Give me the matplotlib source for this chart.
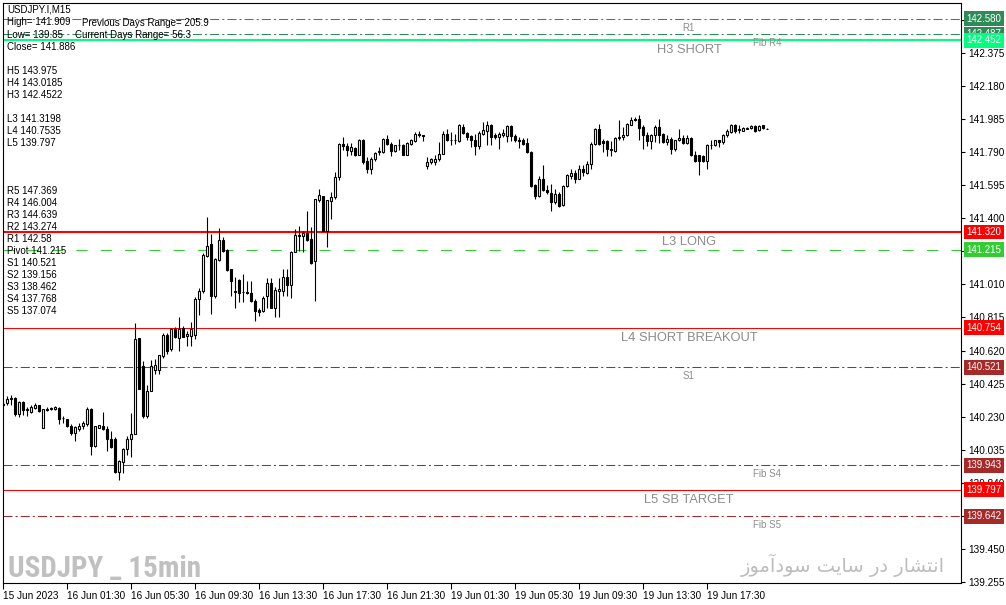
import matplotlib
matplotlib.use("Agg")
import matplotlib.pyplot as plt
import matplotlib.transforms as mtransforms
from matplotlib import font_manager
import numpy as np
import pandas as pd

plt.rcParams["font.family"] = ["Liberation Sans", "DejaVu Sans"]
plt.rcParams["lines.scale_dashes"] = False

# =========================
# Data (USDJPY.I, M15)
# =========================
opens = [
    140.306, 140.308, 140.338, 140.337, 140.248, 140.318, 140.272, 140.256, 140.280, 140.296,
    140.164, 140.268, 140.272, 140.276, 140.282, 140.221, 140.213, 140.173, 140.134, 140.158,
    140.173, 140.187, 140.272, 140.055, 140.164, 140.177, 140.158, 140.095, 140.095, 139.901,
    139.960, 140.041, 140.095, 140.130, 140.692, 140.528, 140.233, 140.380, 140.505, 140.505,
    140.588, 140.710, 140.627, 140.745, 140.696, 140.755, 140.706, 140.706, 140.710, 140.923,
    140.973, 141.180, 141.249, 140.943, 141.156, 141.273, 141.216, 141.101, 140.973, 141.036,
    140.967, 140.963, 140.959, 140.914, 140.859, 140.851, 140.939, 141.018, 140.874, 140.973,
    140.973, 141.052, 141.008, 141.204, 141.298, 141.296, 141.314, 141.279, 141.150, 141.506,
    141.531, 141.328, 141.500, 141.525, 141.644, 141.841, 141.827, 141.796, 141.815, 141.776,
    141.865, 141.742, 141.689, 141.748, 141.792, 141.792, 141.871, 141.841, 141.798, 141.831,
    141.835, 141.776, 141.841, 141.855, 141.900, 141.890, 141.709, 141.732, 141.736, 141.748,
    141.782, 141.900, 141.866, 141.861, 141.855, 141.940, 141.906, 141.886, 141.866, 141.827,
    141.900, 141.914, 141.953, 141.894, 141.880, 141.890, 141.886, 141.945, 141.886, 141.866,
    141.866, 141.845, 141.792, 141.598, 141.535, 141.634, 141.570, 141.551, 141.496, 141.545,
    141.480, 141.590, 141.653, 141.669, 141.634, 141.693, 141.669, 141.722, 141.841, 141.930,
    141.855, 141.855, 141.803, 141.801, 141.874, 141.880, 141.890, 141.953, 141.985, 141.985,
    141.940, 141.894, 141.855, 141.890, 141.940, 141.900, 141.851, 141.870, 141.807, 141.861,
    141.874, 141.847, 141.874, 141.772, 141.772, 141.768, 141.742, 141.835, 141.835, 141.861,
    141.851, 141.890, 141.910, 141.949, 141.920, 141.918, 141.930, 141.934, 141.945, 141.920,
    141.949, 141.930,
]
highs = [
    140.322, 140.351, 140.355, 140.345, 140.322, 140.322, 140.288, 140.296, 140.312, 140.300,
    140.276, 140.286, 140.284, 140.292, 140.288, 140.233, 140.217, 140.189, 140.177, 140.193,
    140.203, 140.286, 140.282, 140.177, 140.183, 140.258, 140.177, 140.144, 140.108, 139.976,
    140.045, 140.118, 140.252, 140.781, 140.692, 140.558, 140.414, 140.564, 140.568, 140.592,
    140.726, 140.726, 140.755, 140.760, 140.815, 140.765, 140.736, 140.789, 140.935, 140.990,
    141.194, 141.407, 141.308, 141.165, 141.344, 141.290, 141.220, 141.101, 141.052, 141.042,
    141.072, 141.032, 141.032, 140.924, 140.874, 140.943, 141.046, 141.046, 140.993, 141.046,
    141.101, 141.101, 141.210, 141.338, 141.358, 141.328, 141.446, 141.348, 141.516, 141.575,
    141.535, 141.510, 141.555, 141.677, 141.847, 141.881, 141.847, 141.847, 141.821, 141.871,
    141.871, 141.762, 141.762, 141.792, 141.821, 141.875, 141.894, 141.851, 141.835, 141.871,
    141.841, 141.851, 141.871, 141.910, 141.914, 141.894, 141.762, 141.756, 141.772, 141.851,
    141.914, 141.926, 141.910, 141.900, 141.959, 141.959, 141.910, 141.890, 141.900, 141.914,
    141.969, 141.973, 141.959, 141.906, 141.910, 141.926, 141.953, 141.953, 141.900, 141.880,
    141.874, 141.874, 141.796, 141.604, 141.653, 141.716, 141.598, 141.604, 141.575, 141.555,
    141.598, 141.663, 141.693, 141.683, 141.716, 141.716, 141.742, 141.851, 141.934, 141.959,
    141.870, 141.861, 141.855, 141.880, 141.979, 141.940, 141.965, 141.999, 141.999, 142.009,
    141.949, 141.910, 141.900, 141.949, 141.985, 141.906, 141.890, 141.880, 141.866, 141.926,
    141.894, 141.894, 141.880, 141.796, 141.772, 141.772, 141.841, 141.866, 141.866, 141.866,
    141.900, 141.926, 141.959, 141.959, 141.953, 141.940, 141.940, 141.949, 141.949, 141.949,
    141.953, 141.932,
]
lows = [
    140.292, 140.296, 140.296, 140.232, 140.229, 140.242, 140.232, 140.252, 140.272, 140.258,
    140.160, 140.262, 140.268, 140.266, 140.189, 140.193, 140.170, 140.124, 140.088, 140.144,
    140.154, 140.177, 140.002, 140.050, 140.160, 140.150, 140.025, 140.045, 139.897, 139.858,
    139.897, 140.006, 139.990, 140.130, 140.391, 140.223, 140.223, 140.380, 140.479, 140.479,
    140.578, 140.600, 140.617, 140.694, 140.617, 140.698, 140.647, 140.647, 140.690, 140.831,
    140.960, 141.170, 140.834, 140.930, 141.150, 141.200, 141.090, 140.943, 140.874, 140.904,
    140.904, 140.953, 140.908, 140.795, 140.821, 140.845, 140.874, 140.870, 140.815, 140.815,
    140.943, 140.943, 140.933, 141.200, 141.210, 141.200, 141.269, 141.131, 140.914, 141.496,
    141.328, 141.229, 141.397, 141.516, 141.624, 141.802, 141.768, 141.772, 141.768, 141.772,
    141.723, 141.669, 141.663, 141.742, 141.772, 141.788, 141.835, 141.768, 141.792, 141.802,
    141.772, 141.772, 141.835, 141.851, 141.880, 141.855, 141.689, 141.722, 141.713, 141.742,
    141.782, 141.855, 141.835, 141.841, 141.851, 141.900, 141.861, 141.821, 141.772, 141.811,
    141.894, 141.835, 141.835, 141.870, 141.811, 141.880, 141.851, 141.855, 141.851, 141.815,
    141.831, 141.788, 141.584, 141.515, 141.525, 141.559, 141.545, 141.446, 141.486, 141.466,
    141.476, 141.584, 141.634, 141.610, 141.630, 141.653, 141.663, 141.693, 141.835, 141.835,
    141.795, 141.768, 141.768, 141.795, 141.866, 141.861, 141.886, 141.949, 141.973, 141.866,
    141.807, 141.827, 141.807, 141.851, 141.847, 141.847, 141.835, 141.782, 141.801, 141.855,
    141.841, 141.841, 141.768, 141.736, 141.657, 141.736, 141.689, 141.807, 141.827, 141.821,
    141.841, 141.880, 141.906, 141.906, 141.906, 141.914, 141.926, 141.930, 141.910, 141.914,
    141.930, 141.928,
]
closes = [
    140.300, 140.336, 140.336, 140.246, 140.318, 140.268, 140.266, 140.286, 140.300, 140.262,
    140.272, 140.276, 140.280, 140.286, 140.213, 140.219, 140.173, 140.134, 140.168, 140.177,
    140.193, 140.272, 140.055, 140.173, 140.179, 140.154, 140.095, 140.049, 139.901, 139.966,
    140.041, 140.098, 140.130, 140.686, 140.391, 140.233, 140.380, 140.528, 140.534, 140.592,
    140.710, 140.617, 140.745, 140.702, 140.745, 140.702, 140.716, 140.745, 140.923, 140.973,
    141.184, 141.239, 140.943, 141.160, 141.273, 141.210, 141.097, 141.032, 140.963, 140.957,
    140.963, 140.959, 140.914, 140.855, 140.849, 140.933, 141.018, 140.874, 140.977, 140.981,
    141.052, 141.008, 141.204, 141.302, 141.302, 141.314, 141.275, 141.137, 141.512, 141.539,
    141.328, 141.506, 141.525, 141.644, 141.841, 141.827, 141.802, 141.821, 141.776, 141.865,
    141.736, 141.689, 141.752, 141.788, 141.796, 141.871, 141.841, 141.796, 141.831, 141.835,
    141.776, 141.847, 141.861, 141.900, 141.890, 141.886, 141.732, 141.748, 141.752, 141.782,
    141.900, 141.861, 141.861, 141.866, 141.949, 141.906, 141.880, 141.861, 141.827, 141.906,
    141.920, 141.953, 141.880, 141.880, 141.900, 141.906, 141.945, 141.886, 141.861, 141.855,
    141.841, 141.792, 141.594, 141.531, 141.634, 141.565, 141.555, 141.496, 141.545, 141.476,
    141.590, 141.657, 141.669, 141.634, 141.693, 141.673, 141.722, 141.841, 141.930, 141.841,
    141.847, 141.811, 141.811, 141.874, 141.880, 141.894, 141.959, 141.979, 141.979, 141.934,
    141.890, 141.855, 141.894, 141.940, 141.894, 141.851, 141.870, 141.811, 141.861, 141.874,
    141.847, 141.874, 141.772, 141.742, 141.742, 141.742, 141.835, 141.831, 141.861, 141.851,
    141.894, 141.914, 141.949, 141.914, 141.926, 141.934, 141.934, 141.945, 141.914, 141.945,
    141.934, 141.930,
]

# bar times: Thu/Fri session, then Monday after the weekend
friday_bars = pd.date_range("2023-06-15 21:30", "2023-06-16 23:45", freq="15min")
monday_bars = pd.date_range("2023-06-19 00:00", periods=len(opens) - len(friday_bars), freq="15min")
times = friday_bars.append(monday_bars)

# pivot / camarilla levels drawn on chart
level_values = [142.580, 142.487, 142.452, 141.320, 141.215, 140.754, 140.521, 139.943, 139.797, 139.642]
level_names = ["R1", "Fib R4", "H3 SHORT", "L3 LONG", "", "L4 SHORT BREAKOUT", "S1", "Fib S4", "L5 SB TARGET", "Fib S5"]
level_colors = ["#2E8B57", "#2E8B57", "#00FF7F", "#FF0000", "#32CD32", "#FF0000",
                "#A52A2A", "#A52A2A", "#FF0000", "#A52A2A"]
level_styles = ["dashdot", "dashdot", "solid", "solid", "dash", "solid",
                "dashdot", "dashdot", "solid", "dashdot"]
level_widths = [1, 1, 2, 2, 1, 1, 1, 1, 1, 1]

info_top = ["USDJPY.I,M15", "High= 141.909", "Low= 139.85", "Close= 141.886"]
info_ranges = ["Previous Days Range= 205.9", "Current Days Range= 56.3"]
camarilla = ["H5 143.975", "H4 143.0185", "H3 142.4522", "", "L3 141.3198", "L4 140.7535", "L5 139.797"]
pivots = ["R5 147.369", "R4 146.004", "R3 144.639", "R2 143.274", "R1 142.58", "Pivot 141.215",
          "S1 140.521", "S2 139.156", "S3 138.462", "S4 137.768", "S5 137.074"]

# =========================
# Figure
# =========================
W, H = 1006, 605
fig = plt.figure(figsize=(W / 100, H / 100), dpi=100)
ax = fig.add_axes([3 / W, 22 / H, 958 / W, 580 / H])

o = np.array(opens)
h = np.array(highs)
l = np.array(lows)
c = np.array(closes)
x = np.arange(len(o))
up = c >= o

# wicks
ax.vlines(x, l, h, color="black", lw=0.8, zorder=3)
# bodies
ax.bar(x[up], c[up] - o[up], bottom=o[up], width=0.5, facecolor="white",
       edgecolor="black", lw=0.8, zorder=4)
ax.bar(x[~up], o[~up] - c[~up], bottom=c[~up], width=0.5, facecolor="black",
       edgecolor="black", lw=0.8, zorder=4)

dash_map = {
    "solid": "-",
    "dash": (0, (8, 9.5)),
    "dashdot": (0, (6.5, 2.2, 1.5, 2.2)),
}

label_tr = mtransforms.blended_transform_factory(ax.transAxes, ax.transData)
for val, name, col, st, lw in zip(level_values, level_names, level_colors, level_styles, level_widths):
    ax.axhline(val, color=col, lw=lw * 0.75, linestyle=dash_map[st], zorder=2)
    if name:
        big = name not in ("R1", "S1") and not name.startswith("Fib")
        xpos = 0.7975 if name.startswith("Fib") else 0.716
        ax.annotate(name, xy=(xpos, val), xycoords=label_tr, xytext=(0, -3),
                    textcoords="offset points", ha="center", va="top",
                    fontsize=9.3 if big else 7, color="#8C8C8C", zorder=5)
    # price box on the right axis
    ax.annotate(f"{val:.3f}", xy=(1.0, val), xycoords=label_tr, xytext=(4, 0),
                textcoords="offset points", ha="left", va="center", fontsize=7,
                color="white", annotation_clip=False, zorder=10,
                bbox=dict(boxstyle="square,pad=0.25", facecolor=col, edgecolor="none"))

ax.set_xlim(-0.1, 239.4)
ax.set_ylim(139.2473, 142.672)

# axes: tick labels that sit right under a price box are left blank
ax.yaxis.tick_right()
yt = np.arange(139.255, 142.6, 0.195)
ax.set_yticks(yt)
ax.set_yticklabels(["" if min(abs(v - lv) for lv in level_values) < 0.02 else f"{v:.3f}" for v in yt])
tick_pos = x[::16]
tick_lab = [times[0].strftime("%d %b %Y")] + [times[i].strftime("%d %b %H:%M") for i in tick_pos[1:]]
ax.set_xticks(tick_pos)
ax.set_xticklabels(tick_lab, ha="left")
ax.tick_params(axis="y", length=3, width=0.8, pad=2, labelsize=7.2)
ax.tick_params(axis="x", length=4, width=0.8, pad=2, labelsize=7.2)
for s in ax.spines.values():
    s.set_linewidth(0.8)

# info text, top left
def px(xp, yp):
    return xp / W, 1 - yp / H

for i, t in enumerate(info_top):
    fig.text(*px(7, 10 + 12.3 * i), t, fontsize=7, va="center", zorder=6)
fig.text(*px(82, 22.5), info_ranges[0], fontsize=7, va="center", zorder=6)
fig.text(*px(75, 34.8), info_ranges[1], fontsize=7, va="center", zorder=6)
for i, t in enumerate(camarilla):
    fig.text(*px(7, 71 + 12 * i), t, fontsize=7, va="center", zorder=6)
for i, t in enumerate(pivots):
    fig.text(*px(7, 191 + 12 * i), t, fontsize=7, va="center", zorder=6)

# watermarks
installed = {f.name for f in font_manager.fontManager.ttflist}
narrow = [f for f in ["Liberation Sans Narrow", "DejaVu Sans Condensed", "Roboto Condensed"] if f in installed]
if narrow:
    fig.text(*px(8, 577), "USDJPY _ 15min", fontsize=21, fontweight="bold",
             family=[narrow[0], "DejaVu Sans"], color="#C0C0C0", va="baseline")
else:
    fig.text(*px(8, 577), "USDJPY _ 15min", fontsize=16.5, fontweight="bold",
             color="#C0C0C0", va="baseline")
fa = "\ufeaf\ufeee\ufee3\ufe81\ufea9\ufeee\ufeb3 \ufe96\ufbfe\ufe8e\ufeb3 \ufead\ufea9 \ufead\ufe8e\ufeb8\ufe98\ufee7\ufe8d"
fig.text(*px(945, 572), fa, fontsize=14, family=["DejaVu Sans"], color="#BDBDBD",
         ha="right", va="baseline")

fig.savefig("out.png", dpi=100)
